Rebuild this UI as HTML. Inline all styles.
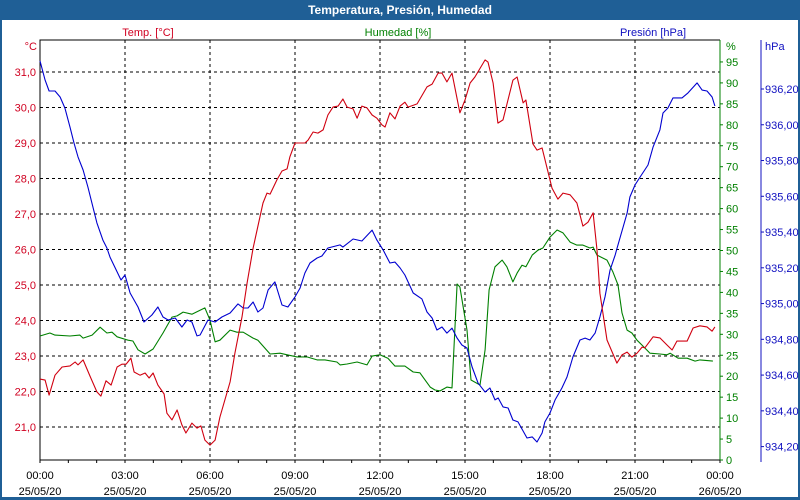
<!DOCTYPE html>
<html><head><meta charset="utf-8"><style>
html,body{margin:0;padding:0;background:#fff;}
#wrap{position:relative;width:800px;height:500px;overflow:hidden;font-family:"Liberation Sans",sans-serif;}
</style></head><body>
<div id="wrap">
<svg id="chart" width="800" height="500" xmlns="http://www.w3.org/2000/svg" font-family="Liberation Sans, sans-serif" font-size="11">
<rect x="0" y="0" width="800" height="500" fill="#1f5f96"/>
<rect x="2" y="20" width="796" height="477" fill="#fff"/>
<text x="400" y="14" fill="#fff" font-weight="bold" font-size="12" text-anchor="middle">Temperatura, Presión, Humedad</text>
<text x="148" y="36" fill="#d00020" text-anchor="middle">Temp. [°C]</text>
<text x="398" y="36" fill="#008000" text-anchor="middle">Humedad [%]</text>
<text x="653" y="36" fill="#1010c0" text-anchor="middle">Presión [hPa]</text>
<text x="37" y="50" fill="#d00020" text-anchor="end">°C</text>
<text x="726" y="50" fill="#008000">%</text>
<text x="765" y="50" fill="#1010c0">hPa</text>
<g id="grid"></g>
<g id="axes"></g>
<g id="series"></g>
</svg>
</div>
<script>
const xTickHours=[0,3,6,9,12,15,18,21,24];
const xTickTimes=["00:00","03:00","06:00","09:00","12:00","15:00","18:00","21:00","00:00"];
const xTickDates=["25/05/20","25/05/20","25/05/20","25/05/20","25/05/20","25/05/20","25/05/20","25/05/20","26/05/20"];
const tempTicks=[21,22,23,24,25,26,27,28,29,30,31];
const humTicks=[0,5,10,15,20,25,30,35,40,45,50,55,60,65,70,75,80,85,90,95];
const presTicks=[934.2,934.4,934.6,934.8,935.0,935.2,935.4,935.6,935.8,936.0,936.2];

const tempHours=[0,0.18,0.32,0.53,0.78,1.06,1.24,1.34,1.52,1.76,2.01,2.15,2.33,2.51,2.72,2.89,3.04,3.21,3.32,3.53,3.71,3.85,3.99,4.16,4.38,4.48,4.66,4.84,5.01,5.15,5.36,5.54,5.68,5.82,6.00,6.18,6.35,6.71,6.88,7.13,7.31,7.52,7.87,8.01,8.12,8.36,8.54,8.72,8.82,9.00,9.35,9.46,9.64,9.81,9.99,10.16,10.34,10.52,10.69,10.84,11.05,11.19,11.36,11.54,11.72,11.89,12.07,12.18,12.35,12.53,12.71,12.88,12.99,13.31,13.66,13.84,14.05,14.19,14.36,14.54,14.82,15.00,15.18,15.35,15.71,15.81,15.99,16.16,16.34,16.69,16.84,17.05,17.15,17.40,17.54,17.72,18.07,18.28,18.46,18.71,18.95,19.16,19.34,19.52,19.66,19.69,19.76,20.01,20.36,20.54,20.72,20.89,21.07,21.25,21.35,21.64,21.88,22.13,22.31,22.48,22.84,23.05,23.29,23.54,23.72,23.82];
const tempValues=[22.35,22.32,21.90,22.46,22.69,22.72,22.83,22.75,22.89,22.44,21.99,21.87,22.30,22.18,22.69,22.77,22.77,22.94,22.55,22.46,22.52,22.38,22.52,22.18,21.93,21.39,21.20,21.48,21.06,20.83,21.11,20.97,21.03,20.63,20.49,20.63,21.28,22.27,23.08,24.10,25.06,26.04,27.31,27.59,27.56,27.96,28.21,28.27,28.61,29.00,29.00,29.08,29.31,29.28,29.37,29.79,30.01,30.04,30.24,30.01,29.96,29.70,30.04,29.99,29.79,29.70,29.51,29.45,29.85,29.68,30.04,30.15,30.01,30.10,30.58,30.66,30.97,30.97,30.72,30.97,29.85,30.21,30.69,30.86,31.34,31.28,30.69,29.56,29.65,30.77,30.86,30.13,30.21,28.97,28.80,28.86,27.73,27.42,27.59,27.54,27.31,26.66,26.77,27.03,25.99,25.62,24.77,23.45,22.80,23.03,23.11,22.97,23.08,23.25,23.23,23.54,23.51,23.31,23.17,23.42,23.42,23.79,23.85,23.82,23.70,23.82];

const humHours=[0,0.35,0.53,1.06,1.41,1.52,1.84,2.12,2.36,2.54,2.72,3.11,3.28,3.46,3.71,3.99,4.34,4.66,4.84,5.05,5.36,5.82,6.00,6.18,6.35,6.71,6.95,7.17,7.52,7.69,8.12,8.47,8.72,9.07,9.42,9.78,10.06,10.48,10.59,10.84,11.19,11.54,11.72,12.00,12.28,12.53,12.88,13.17,13.41,13.77,13.94,14.12,14.36,14.54,14.72,14.82,15.07,15.21,15.53,15.71,15.85,16.06,16.31,16.48,16.69,16.84,17.01,17.15,17.37,17.58,17.75,18.00,18.25,18.46,18.71,18.95,19.16,19.41,19.52,19.66,20.01,20.22,20.40,20.54,20.72,20.89,21.07,21.28,21.53,21.88,22.13,22.24,22.52,22.84,23.12,23.29,23.75];
const humValues=[29.6,30.3,29.8,29.6,29.8,29.1,29.8,31.7,30.3,30.5,29.4,28.6,28.4,26.3,25.3,26.5,30.3,34.1,34.4,35.3,34.8,36.3,33.4,28.2,28.6,31.0,30.5,30.5,29.1,28.6,25.3,25.5,25.1,24.6,24.6,23.9,23.9,23.4,22.7,22.9,23.4,22.7,24.8,25.1,24.3,22.4,22.4,21.0,20.8,17.4,16.7,16.5,17.4,17.2,42.0,41.3,31.0,19.1,17.9,26.3,40.6,46.1,47.7,46.1,42.5,44.6,46.5,46.1,48.9,50.1,50.6,53.2,54.9,54.2,52.0,51.3,51.3,50.6,50.8,48.9,47.7,44.9,41.8,35.1,31.0,30.3,28.6,27.2,25.5,25.3,25.1,25.5,24.3,24.3,23.6,23.9,23.6];

const presHours=[0,0.18,0.32,0.53,0.71,0.88,1.06,1.20,1.34,1.52,1.69,2.01,2.22,2.36,2.47,2.72,2.86,3.00,3.18,3.46,3.67,3.95,4.16,4.34,4.52,4.77,5.01,5.19,5.36,5.54,5.65,5.93,6.18,6.42,6.71,6.99,7.17,7.34,7.52,7.69,7.87,8.05,8.29,8.54,8.75,9.00,9.18,9.35,9.53,9.78,9.95,10.16,10.59,10.69,11.05,11.36,11.72,11.89,12.11,12.35,12.53,12.71,12.88,13.17,13.48,13.66,13.84,14.01,14.19,14.36,14.54,14.72,14.89,15.07,15.25,15.46,15.71,15.88,16.06,16.17,16.34,16.52,16.69,16.87,17.19,17.37,17.54,17.72,17.82,18.00,18.18,18.42,18.60,18.81,19.06,19.24,19.41,19.59,19.76,19.94,20.12,20.30,20.37,20.72,20.82,21.00,21.18,21.46,21.64,21.88,21.99,22.16,22.34,22.66,22.87,23.19,23.37,23.54,23.72,23.82];
const presValues=[936.357,936.250,936.189,936.189,936.155,936.094,935.987,935.898,935.820,935.747,935.652,935.451,935.355,935.311,935.260,935.177,935.132,935.160,935.059,934.981,934.897,934.936,934.981,934.925,934.908,934.919,934.869,934.908,934.897,934.819,934.824,934.908,934.897,934.925,934.947,934.998,934.975,934.975,935.009,934.953,934.975,935.076,935.121,934.992,934.981,935.037,935.087,935.171,935.227,935.255,935.266,935.311,935.328,935.316,935.361,935.350,935.411,935.355,935.300,935.227,935.232,935.199,935.160,935.059,935.026,934.953,934.919,934.852,934.869,934.835,934.863,934.807,934.768,934.751,934.645,934.556,934.505,934.528,934.461,934.472,934.422,934.416,934.349,934.338,934.248,934.254,934.226,934.276,934.338,934.388,934.461,934.528,934.589,934.701,934.796,934.807,934.796,934.835,934.925,935.037,935.188,935.272,935.311,935.506,935.596,935.663,935.708,935.775,935.876,935.971,936.066,936.094,936.150,936.150,936.178,936.234,936.194,936.189,936.155,936.105];

const NS="http://www.w3.org/2000/svg";
const L=40,R=720,T=40,B=460;
function xS(h){return L+h*(R-L)/24;}
function yT(v){return 72+(31-v)*35.5;}
function yH(v){return 460-v*4.19;}
function yP(v){return 89+(936.2-v)*178.8;}
function mk(tag,attrs,parent){const e=document.createElementNS(NS,tag);for(const k in attrs)e.setAttribute(k,attrs[k]);parent.appendChild(e);return e;}
const grid=document.getElementById('grid'),axes=document.getElementById('axes'),series=document.getElementById('series');

tempTicks.forEach(v=>{
  const y=yT(v);
  const g=mk('line',{x1:L,x2:R,y1:y,y2:y,stroke:'#000','stroke-dasharray':'3,3'},grid);
  
  
  const t=mk('text',{x:36,y:y+4,fill:'#d00020','text-anchor':'end'},axes);
  t.textContent=v.toFixed(1).replace('.',',');
  
  
});
xTickHours.forEach((h,i)=>{
  const x=xS(h);
  if(h>0&&h<24){
    const g=mk('line',{x1:x,x2:x,y1:T,y2:B,stroke:'#000','stroke-dasharray':'3,3'},grid);
    
    
  }
  const t1=mk('text',{x:x,y:479,fill:'#000','text-anchor':'middle'},axes);
  t1.textContent=xTickTimes[i];
  
  
  const t2=mk('text',{x:x,y:495,fill:'#000','text-anchor':'middle'},axes);
  t2.textContent=xTickDates[i];
  
  
});
for(let h=0;h<=24;h++){
  const x=xS(h);
  const tk=mk('line',{x1:x,x2:x,y1:B,y2:B+3,stroke:'#000'},axes);
  
  
}
const frame=mk('path',{d:`M${L},${B} L${L},${T} L${R},${T}`,fill:'none',stroke:'#000'},axes);


const xa=mk('line',{x1:L,x2:R,y1:B,y2:B,stroke:'#000'},axes);


const ha=mk('line',{x1:R,x2:R,y1:T,y2:B,stroke:'#008000'},axes);


humTicks.forEach(v=>{
  const y=yH(v);
  const tk=mk('line',{x1:R,x2:R+3,y1:y,y2:y,stroke:'#008000'},axes);
  
  
  const t=mk('text',{x:726,y:y+4,fill:'#008000'},axes);
  t.textContent=v;
  
  
});
const pa=mk('line',{x1:761,x2:761,y1:T,y2:462,stroke:'#1010c0'},axes);


presTicks.forEach(v=>{
  const y=yP(v);
  const tk=mk('line',{x1:761,x2:764,y1:y,y2:y,stroke:'#1010c0'},axes);
  
  
  const t=mk('text',{x:765,y:y+4,fill:'#1010c0'},axes);
  t.textContent=v.toFixed(2).replace('.',',');
  
  
});
function line(hours,vals,yf,color,name){
  const d=hours.map((h,i)=>(i?'L':'M')+xS(h).toFixed(1)+','+yf(vals[i]).toFixed(1)).join(' ');
  const p=mk('path',{d:d,fill:'none',stroke:color,'stroke-width':1.1,'stroke-linejoin':'round'},series);
  
  
}
line(humHours,humValues,yH,'#008000','humidity-line');
line(presHours,presValues,yP,'#0000d0','pressure-line');
line(tempHours,tempValues,yT,'#d00010','temperature-line');
</script>
</body></html>
